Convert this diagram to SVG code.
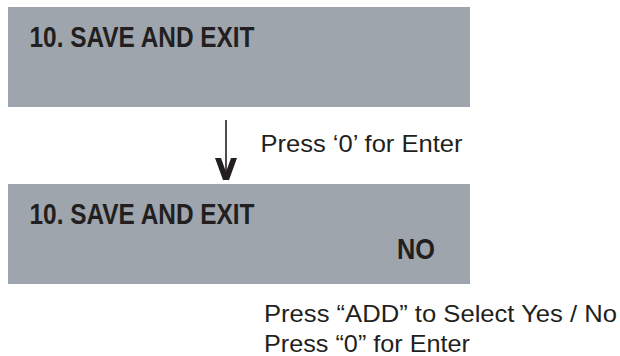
<svg xmlns="http://www.w3.org/2000/svg" width="620" height="356" viewBox="0 0 620 356">
<style>
.box{fill:#9ea5ac;}
.title{font-family:"Liberation Sans",Arial,sans-serif;font-weight:bold;font-size:30px;fill:#231f20;}
.note{font-family:"Liberation Sans",Arial,sans-serif;font-size:24px;fill:#231f20;}
</style>
<rect width="620" height="356" fill="#ffffff"/>
<g id="screen1">
<rect class="box" x="8" y="7" width="462" height="100"/>
<text class="title" x="29.5" y="47" textLength="225" lengthAdjust="spacingAndGlyphs">10. SAVE AND EXIT</text>
</g>
<g id="screen2">
<rect class="box" x="8" y="184" width="462" height="100"/>
<text class="title" x="29.5" y="224" textLength="225" lengthAdjust="spacingAndGlyphs">10. SAVE AND EXIT</text>
<text class="title" x="397" y="259" textLength="38" lengthAdjust="spacingAndGlyphs">NO</text>
</g>
<g id="connectors">
<line x1="226" y1="120" x2="226" y2="172" stroke="#231f20" stroke-width="1.6"/>
<polygon points="215,158 221,158 226,172 231,158 237,158 229,180 223,180" fill="#231f20"/>
<text class="note" x="260.5" y="151.5" textLength="202" lengthAdjust="spacingAndGlyphs">Press ‘0’ for Enter</text>
</g>
<g id="instructions">
<text class="note" x="264" y="321.5" textLength="353" lengthAdjust="spacingAndGlyphs">Press “ADD” to Select Yes / No</text>
<text class="note" x="264" y="352" textLength="206" lengthAdjust="spacingAndGlyphs">Press “0” for Enter</text>
</g>
</svg>
